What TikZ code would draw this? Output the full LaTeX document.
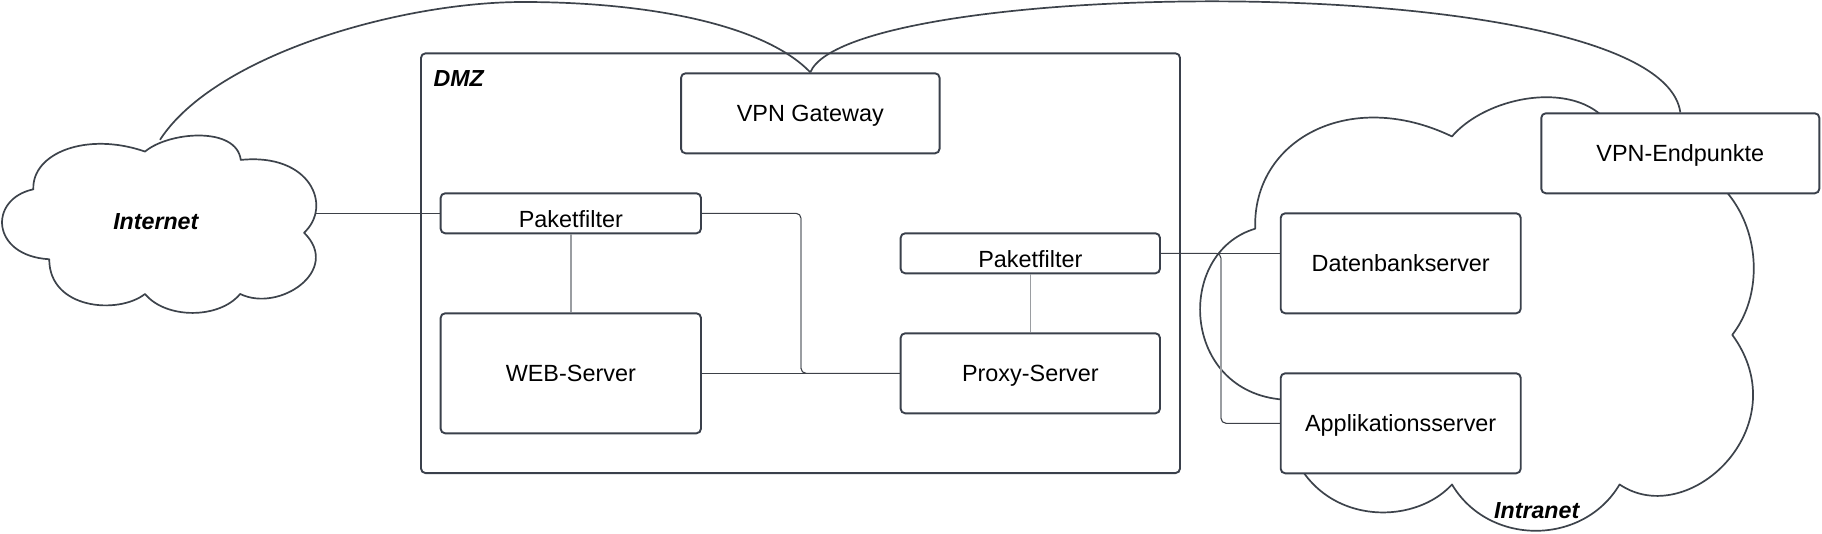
\documentclass[tikz,border=0pt]{standalone}
\usepackage{fontspec}
\setmainfont{Liberation Sans}
\usetikzlibrary{calc}
\definecolor{boxc}{HTML}{3A404B}
\definecolor{connc}{HTML}{3D4148}
\definecolor{vgray}{HTML}{9A9DA1}
\definecolor{linec}{HTML}{3D434B}
\tikzset{
  srvbox/.style={draw=boxc, line width=1.9pt, rounded corners=4.5pt, fill=white, inner sep=0pt,
    font=\fontsize{23.4}{28}\selectfont, text height=16.75pt, text depth=0pt, align=center},
  pfbox/.style={srvbox, text height=28.5pt},
  zonebox/.style={draw=boxc, line width=1.9pt, rounded corners=4.5pt, inner sep=0pt},
  conn/.style={draw=connc, line width=1.1pt},
  vconn/.style={draw=vgray, line width=1.6pt},
  cloudline/.style={draw=linec, line width=1.7pt, fill=white, line join=round},
  curve/.style={draw=linec, line width=1.7pt},
  zonelabel/.style={font=\fontsize{23.2}{28}\selectfont\bfseries\itshape, inner sep=0pt, anchor=base},
}
\newcommand{\cloudshape}[4]{%
  \begin{scope}[shift={(#1,#2)}, xscale=#3, yscale=#4]
    \draw[cloudline] (0.0995,0.305)
      .. controls (-0.045,0.36) and (-0.035,0.68) .. (0.150,0.698)
      .. controls (0.15,0.98) and (0.37,1.01) .. (0.454,0.893)
      .. controls (0.52,1.035) and (0.69,1.035) .. (0.756,0.893)
      .. controls (0.88,1.0) and (1.08,0.76) .. (0.959,0.549)
      .. controls (1.05,0.40) and (0.98,0.10) .. (0.758,0.140)
      .. controls (0.745,-0.05) and (0.53,-0.02) .. (0.454,0.093)
      .. controls (0.27,-0.02) and (0.095,0.10) .. cycle;
  \end{scope}}
\begin{document}
\begin{tikzpicture}[x=1pt, y=-1pt]
\useasboundingbox (0,0) rectangle (1822,533);
% clouds
\cloudshape{2}{135}{315}{178}
\cloudshape{1200}{96}{555}{435}
% DMZ zone
\node[zonebox, minimum width=759pt, minimum height=419.7pt] (dmz) at (800.5,263.2) {};
% boxes
\node[srvbox, minimum width=258.5pt, minimum height=80pt] (vpngw) at (810.3,113.3) {VPN Gateway};
\node[pfbox, minimum width=260.3pt, minimum height=40pt] (pf1) at (570.8,213.3) {Paketfilter};
\node[srvbox, minimum width=260.3pt, minimum height=120pt] (web) at (570.8,373.3) {WEB-Server};
\node[pfbox, minimum width=259.3pt, minimum height=40pt] (pf2) at (1030.3,253.3) {Paketfilter};
\node[srvbox, minimum width=259.3pt, minimum height=80pt] (proxy) at (1030.3,373.3) {Proxy-Server};
\node[srvbox, minimum width=240pt, minimum height=100pt] (db) at (1400.7,263.3) {Datenbankserver};
\node[srvbox, minimum width=240pt, minimum height=100pt] (app) at (1400.7,423.3) {Applikationsserver};
\node[srvbox, minimum width=278pt, minimum height=80pt] (vpne) at (1680.3,153.3) {VPN-Endpunkte};
% labels
\node[zonelabel, anchor=base west] (dmzlbl) at (433.3,86.7) {DMZ};
\node[zonelabel] (inetlbl) at (155.8,229.3) {Internet};
\node[zonelabel] (intralbl) at (1536.7,518.3) {Intranet};
% connector points
\coordinate (inetE) at (315,213.3);
\coordinate (inetT) at (160,139.8);
\coordinate (k1) at (801,213.3);
\coordinate (k2) at (1221,253.3);
% connectors
\draw[conn] (inetE) -- (pf1.west);
\draw[vconn] (pf1.south) -- (web.north);
\draw[conn, rounded corners=5pt] (pf1.east) -- (k1) -- (k1 |- proxy.west) -- (proxy.west);
\draw[vconn] ($(k1)+(0,5)$) -- ($(k1 |- proxy.west)+(0,-5)$);
\draw[conn] (web.east) -- (proxy.west);
\draw[vconn] (pf2.south) -- (proxy.north);
\draw[conn] (pf2.east) -- (pf2.east -| db.west);
\draw[conn, rounded corners=5pt] (pf2.east) -- (k2) -- (k2 |- app.west) -- (app.west);
\draw[vconn] ($(k2)+(0,5)$) -- ($(k2 |- app.west)+(0,-5)$);
% curved VPN links
\draw[curve] (inetT) .. controls (215,55) and (400,2) .. (523,2)
  .. controls (650,2) and (765,25) .. (vpngw.north);
\draw[curve] (vpngw.north) .. controls (850,-24) and (1660,-33) .. (vpne.north);
\end{tikzpicture}
\end{document}
